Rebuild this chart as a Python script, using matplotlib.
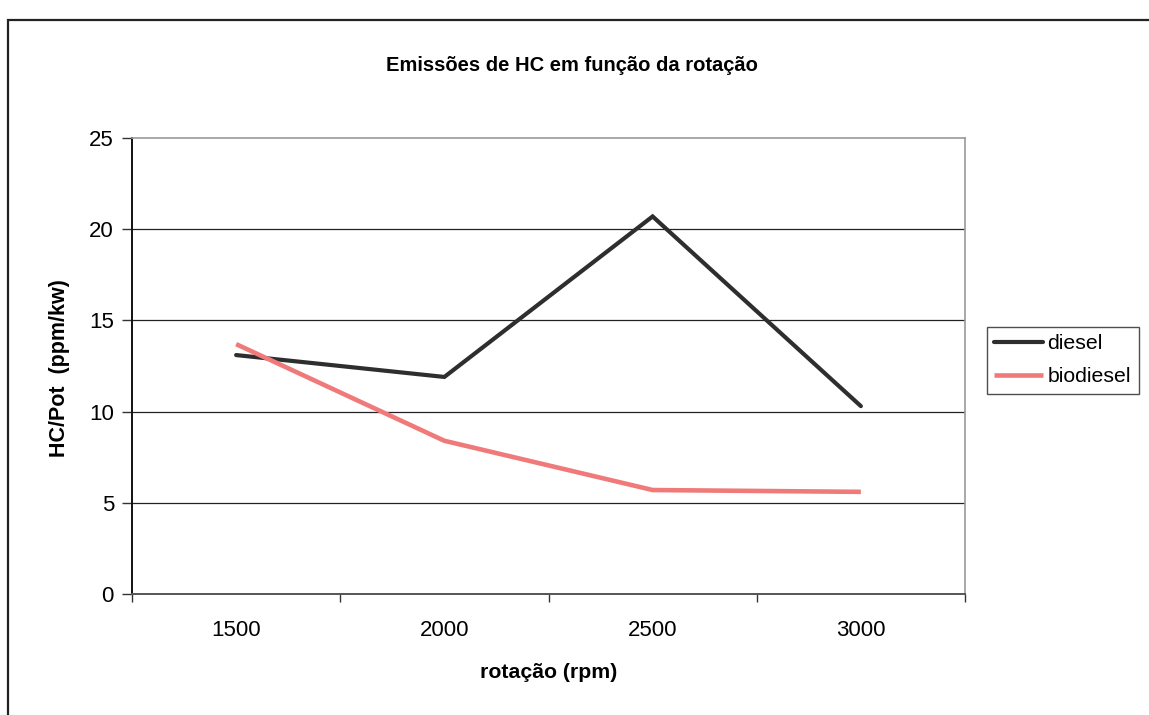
import matplotlib
matplotlib.use("Agg")
import matplotlib.pyplot as plt
from matplotlib.patches import Rectangle

plt.rcParams['font.family'] = ['Liberation Sans', 'DejaVu Sans']

# Data
rpm_labels = ["1500", "2000", "2500", "3000"]
diesel = [13.1, 11.9, 20.7, 10.3]
biodiesel = [13.7, 8.4, 5.7, 5.6]
y_ticks = [0, 5, 10, 15, 20, 25]

W, H = 1149, 715
fig = plt.figure(figsize=(W / 100, H / 100), dpi=100)
fig.patch.set_facecolor('white')

# Outer chart frame (left and top edges visible)
fig.add_artist(Rectangle((8 / W, -0.1), 1.2, 1 - 20 / H + 0.1,
                         transform=fig.transFigure, fill=False,
                         edgecolor='#222222', linewidth=1.6))

L, R, T, B = 132, 965, 138, 594
ax = fig.add_axes([L / W, 1 - B / H, (R - L) / W, (B - T) / H])

x = list(range(len(rpm_labels)))
ax.plot(x, diesel, color='#2e2e2e', linewidth=3.0, label='diesel',
        solid_capstyle='round', solid_joinstyle='miter')
ax.plot(x, biodiesel, color='#f07a7a', linewidth=3.3, label='biodiesel',
        solid_capstyle='butt', solid_joinstyle='miter')

ax.set_xlim(-0.5, len(rpm_labels) - 0.5)
ax.set_ylim(0, 25)

# Category axis: tick marks between categories, labels centred on them
ax.set_xticks([i - 0.5 for i in range(len(rpm_labels) + 1)])
ax.set_xticklabels([])
ax.set_xticks(x, minor=True)
ax.set_xticklabels(rpm_labels, minor=True, fontsize=16)
ax.tick_params(axis='x', which='major', direction='out', length=6,
               width=1, color='#333333')
ax.tick_params(axis='x', which='minor', length=0, pad=19)

ax.set_yticks(y_ticks)
ax.set_yticklabels([str(v) for v in y_ticks], fontsize=16)
ax.tick_params(axis='y', direction='out', length=7, width=1,
               color='#333333', pad=6)

for v in y_ticks[1:-1]:
    ax.axhline(v, color='#222222', linewidth=0.9, zorder=0.5)

ax.spines['left'].set_color('#111111')
ax.spines['left'].set_linewidth(1.4)
ax.spines['bottom'].set_color('#555555')
ax.spines['bottom'].set_linewidth(1.4)
for s in ('top', 'right'):
    ax.spines[s].set_color('#999999')
    ax.spines[s].set_linewidth(1.2)

fig.text(572 / W, 1 - 71 / H, "Emissões de HC em função da rotação",
         ha='center', va='baseline', fontsize=14.5, fontweight='bold')
fig.text(549 / W, 1 - 673 / H, "rotação (rpm)",
         ha='center', va='center', fontsize=15.3, fontweight='bold')
fig.text(60 / W, 1 - 368 / H, "HC/Pot  (ppm/kw)", rotation=90,
         ha='center', va='center', fontsize=15.5, fontweight='bold')

leg = ax.legend(loc='upper left', bbox_to_anchor=(987 / W, 1 - 327 / H),
                bbox_transform=fig.transFigure, borderaxespad=0,
                fancybox=False, fontsize=15.3, handlelength=2.3,
                handletextpad=0.2, labelspacing=0.65, borderpad=0.35)
leg.get_frame().set_edgecolor('#222222')
leg.get_frame().set_linewidth(1.0)

fig.savefig('out.png', dpi=100)
